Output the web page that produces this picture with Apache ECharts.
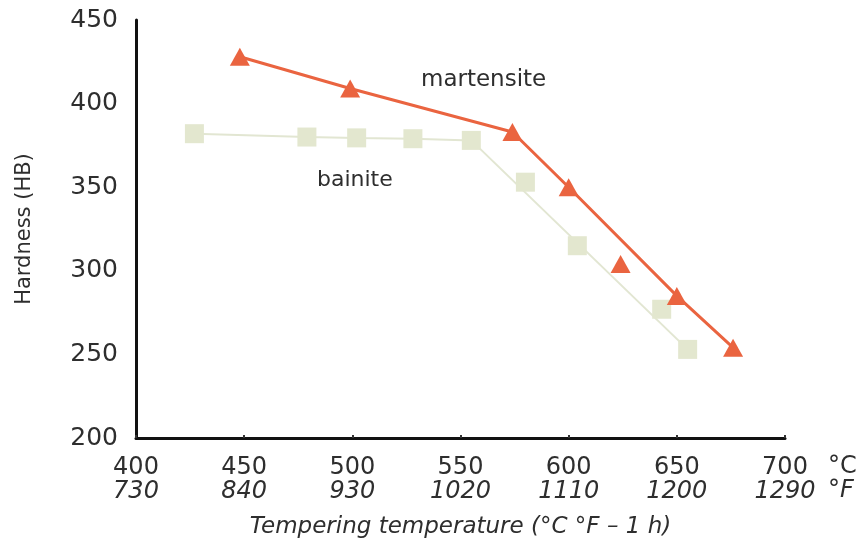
<!DOCTYPE html>
<html>
<head>
<meta charset="utf-8">
<script src="https://cdn.jsdelivr.net/npm/echarts@6/dist/echarts.min.js"></script>
<style>html,body{margin:0;padding:0;background:#fff;}#c{width:862px;height:548px;}</style>
</head>
<body>
<div id="c"></div>
<script>
// Tick labels
const celsiusTicks = [400, 450, 500, 550, 600, 650, 700];
const fahrenheitTicks = [730, 840, 930, 1020, 1110, 1200, 1290];
const hardnessTicks = [200, 250, 300, 350, 400, 450];

// Martensite: fitted line and measured points
const martensiteLineX = [448, 499, 574, 600, 650, 676];
const martensiteLineY = [428, 409, 383, 350, 285, 254];
const martensitePointsX = [448, 499, 574, 600, 624, 650, 676];
const martensitePointsY = [428, 409, 383, 350, 304, 285, 254];

// Bainite: fitted line and measured points
const bainiteLineX = [427, 479, 502, 528, 555, 655];
const bainiteLineY = [382, 380, 379.5, 379, 378, 253];
const bainitePointsX = [427, 479, 502, 528, 555, 580, 604, 643, 655];
const bainitePointsY = [382, 380, 379.5, 379, 378, 353, 315, 277, 253];

const zip = (xs, ys) => xs.map((x, i) => [x, ys[i]]);

const FONT = 'DejaVu Sans';
const TXT = '#2e2e2e';
const ORANGE = '#EA6440';
const PALE = '#E3E7CF';

const chart = echarts.init(document.getElementById('c'));
chart.setOption({
  animation: false,
  backgroundColor: '#fff',
  grid: { left: 136, right: 77, top: 20, bottom: 110, containLabel: false },
  xAxis: {
    type: 'value', min: 400, max: 700, interval: 50,
    name: 'Tempering temperature (°C °F – 1 h)',
    nameLocation: 'middle', nameGap: 78,
    nameTextStyle: { fontFamily: FONT, fontSize: 23, fontStyle: 'italic', color: TXT },
    axisLine: { lineStyle: { color: '#111', width: 3 } },
    axisTick: { show: true, inside: true, length: 3, lineStyle: { color: '#333', width: 2 } },
    splitLine: { show: false },
    axisLabel: {
      margin: 18,
      formatter: function (v) {
        const i = celsiusTicks.indexOf(v);
        if (i < 0) return '';
        return '{c|' + celsiusTicks[i] + '}\n{f|' + fahrenheitTicks[i] + '}';
      },
      rich: {
        c: { fontFamily: FONT, fontSize: 24, color: TXT, lineHeight: 24 },
        f: { fontFamily: FONT, fontSize: 24, fontStyle: 'italic', color: TXT, lineHeight: 24 }
      }
    }
  },
  yAxis: {
    type: 'value', min: 200, max: 450, interval: 50,
    name: 'Hardness (HB)', nameLocation: 'middle', nameGap: 101,
    nameTextStyle: { fontFamily: FONT, fontSize: 21, color: TXT },
    axisLine: { show: true, lineStyle: { color: '#111', width: 3 } },
    axisTick: { show: false },
    splitLine: { show: false },
    axisLabel: {
      margin: 18, fontFamily: FONT, fontSize: 25, color: TXT,
      formatter: function (v) { return hardnessTicks.indexOf(v) >= 0 ? String(v) : ''; }
    }
  },
  graphic: [
    { type: 'text', left: 828, top: 455, style: { text: '°C', fontFamily: FONT, fontSize: 24, fill: TXT } },
    { type: 'text', left: 828, top: 479, style: { text: '°F', fontFamily: FONT, fontSize: 24, fontStyle: 'italic', fill: TXT } },
    { type: 'text', left: 421, top: 69, style: { text: 'martensite', fontFamily: FONT, fontSize: 23, fill: TXT } },
    { type: 'text', left: 317, top: 169, style: { text: 'bainite', fontFamily: FONT, fontSize: 22, fill: TXT } }
  ],
  series: [
    {
      name: 'bainite line', type: 'line', data: zip(bainiteLineX, bainiteLineY),
      showSymbol: false, lineStyle: { color: '#E2E6D2', width: 2 }, z: 1, silent: true
    },
    {
      name: 'bainite', type: 'scatter', data: zip(bainitePointsX, bainitePointsY),
      symbol: 'rect', symbolSize: 19, itemStyle: { color: PALE, opacity: 1 }, z: 2
    },
    {
      name: 'martensite line', type: 'line', data: zip(martensiteLineX, martensiteLineY),
      showSymbol: false, lineStyle: { color: ORANGE, width: 3 }, z: 3, silent: true
    },
    {
      name: 'martensite', type: 'scatter', data: zip(martensitePointsX, martensitePointsY),
      symbol: 'triangle', symbolSize: [20, 18], itemStyle: { color: ORANGE, opacity: 1 }, z: 4
    }
  ]
});
</script>
</body>
</html>
